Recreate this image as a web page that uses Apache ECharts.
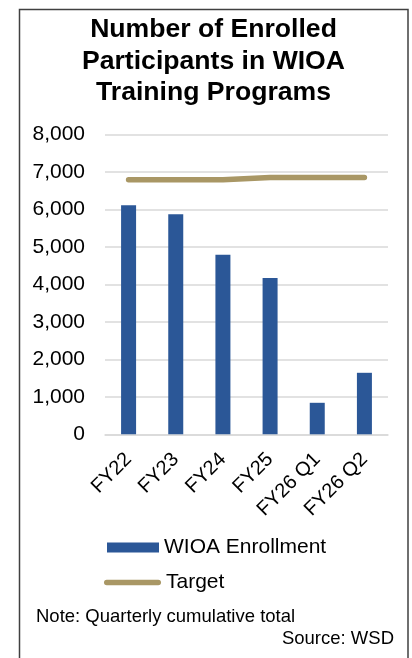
<!DOCTYPE html>
<html>
<head>
<meta charset="utf-8">
<style>
html,body{margin:0;padding:0;background:#fff;}
#chart{width:412px;height:658px;}
</style>
<script src="https://cdn.jsdelivr.net/npm/echarts@6/dist/echarts.min.js"></script>
</head>
<body>
<div id="chart"></div>
<script>
const categories = ['FY22', 'FY23', 'FY24', 'FY25', 'FY26 Q1', 'FY26 Q2'];
const enrollment = [6110, 5870, 4790, 4170, 840, 1640];
const target = [6790, 6790, 6790, 6850, 6850, 6850];
const titleLines = ['Number of Enrolled', 'Participants in WIOA', 'Training Programs'];
const noteText = 'Note: Quarterly cumulative total';
const sourceText = 'Source: WSD';

const FONT = '"Liberation Sans", Arial, sans-serif';
const chart = echarts.init(document.getElementById('chart'), null, {renderer: 'canvas'});
chart.setOption({
  animation: false,
  backgroundColor: '#fff',
  textStyle: {fontFamily: FONT},
  grid: {left: 105, right: 24, top: 134.3, bottom: 223.7, containLabel: false},
  xAxis: {
    type: 'category',
    data: categories,
    axisLine: {show: true, lineStyle: {color: '#D9D9D9', width: 1.5}},
    axisTick: {show: false},
    axisLabel: {rotate: 45, fontSize: 20, color: '#000', margin: 22, fontFamily: FONT, interval: 0}
  },
  yAxis: {
    type: 'value',
    min: 0, max: 8000, interval: 1000,
    axisLine: {show: false},
    axisTick: {show: false},
    splitLine: {lineStyle: {color: '#D9D9D9', width: 1.5}},
    axisLabel: {
      fontSize: 21, color: '#000', margin: 20, fontFamily: FONT,
      formatter: v => v.toLocaleString('en-US')
    }
  },
  legend: [
    {
      data: ['WIOA Enrollment'], orient: 'vertical', left: 107, top: 537, padding: 0,
      itemWidth: 52, itemHeight: 10, icon: 'rect',
      textStyle: {fontSize: 21, color: '#000', fontFamily: FONT}
    },
    {
      data: [{name: 'Target', icon: 'path://M2.75,0 L54.25,0 A2.75,2.75 0 0 1 54.25,5.5 L2.75,5.5 A2.75,2.75 0 0 1 2.75,0 Z'}],
      orient: 'vertical', left: 104, top: 572, padding: 0,
      itemWidth: 57, itemHeight: 5.5,
      itemStyle: {color: '#A99765'},
      textStyle: {fontSize: 21, color: '#000', fontFamily: FONT}
    }
  ],
  series: [
    {
      name: 'WIOA Enrollment', type: 'bar', data: enrollment, barWidth: 15,
      itemStyle: {color: '#2B5797'}
    },
    {
      name: 'Target', type: 'line', data: target, symbol: 'none', showSymbol: false,
      lineStyle: {color: '#A99765', width: 5.5, cap: 'round', join: 'round'},
      itemStyle: {color: '#A99765'}
    }
  ],
  graphic: [
    {
      type: 'rect', silent: true,
      shape: {x: 19.5, y: 9.5, width: 388.5, height: 660},
      style: {fill: 'none', stroke: '#404040', lineWidth: 1.5}
    },
    {
      type: 'text', silent: true,
      style: {
        text: titleLines.join('\n'), x: 213.5, y: 14, textAlign: 'center', textVerticalAlign: 'top',
        font: 'bold 26.6px ' + FONT, lineHeight: 31.5, fill: '#000'
      }
    },
    {
      type: 'text', silent: true,
      style: {text: noteText, x: 36, y: 616.7, textAlign: 'left', textVerticalAlign: 'middle',
        font: '18.5px ' + FONT, fill: '#000'}
    },
    {
      type: 'text', silent: true,
      style: {text: sourceText, x: 394, y: 639, textAlign: 'right', textVerticalAlign: 'middle',
        font: '18.5px ' + FONT, fill: '#000'}
    }
  ]
});
</script>
</body>
</html>
